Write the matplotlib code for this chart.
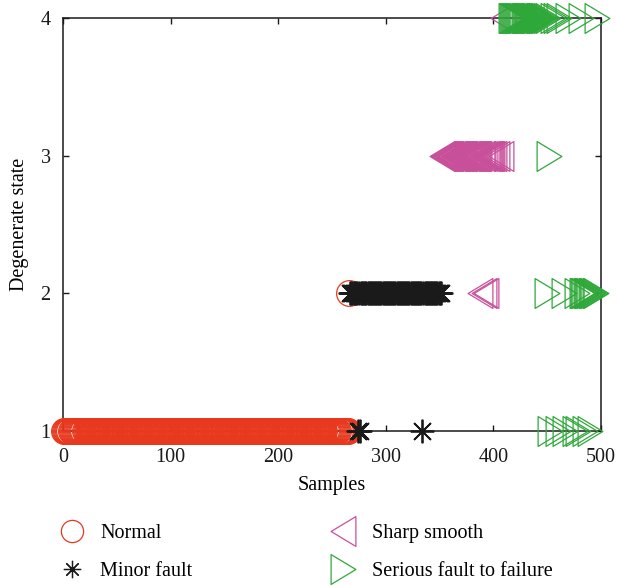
import numpy as np
import matplotlib
matplotlib.use("Agg")
import matplotlib.pyplot as plt
from matplotlib.path import Path
from matplotlib.lines import Line2D

plt.rcParams['font.family'] = ['Liberation Serif', 'DejaVu Serif']

# ---- data: (start sample, end sample, predicted state) runs ----
normal_runs = [(1, 265, 1), (266, 266, 2)]
minor_runs = [(267, 273, 2), (274, 274, 1), (275, 275, 2), (276, 276, 1),
              (277, 333, 2), (334, 334, 1), (335, 351, 2)]
sharp_runs = [(352, 387, 3), (388, 388, 2), (389, 390, 3), (391, 391, 2),
              (392, 392, 3), (393, 393, 2), (394, 399, 3), (401, 401, 3),
              (403, 403, 3), (407, 407, 3), (409, 409, 4)]
serious_runs = [(416, 447, 4), (449, 449, 4), (450, 450, 2), (451, 451, 4),
                (452, 452, 3), (453, 453, 1), (455, 455, 4), (458, 458, 4),
                (460, 460, 1), (461, 461, 4), (466, 466, 2), (467, 467, 1),
                (469, 469, 4), (476, 476, 1), (478, 478, 2), (479, 479, 1),
                (481, 481, 4), (482, 484, 2), (485, 485, 1), (486, 489, 2),
                (490, 490, 1), (491, 495, 2), (496, 496, 4)]

labels = ["Normal", "Minor fault", "Sharp smooth", "Serious fault to failure"]
x_ticks = [0, 100, 200, 300, 400, 500]
y_ticks = [1, 2, 3, 4]

def expand(runs):
    xs, ys = [], []
    for a, b, s in runs:
        for i in range(a, b + 1):
            xs.append(i)
            ys.append(s)
    return np.array(xs), np.array(ys)

red = '#E8391E'
black = '#1a1a1a'
pink = '#C8509B'
green = '#2FA83A'

tri_r = Path([(-0.83, -1), (0.83, 0), (-0.83, 1), (-0.83, -1)],
             [Path.MOVETO, Path.LINETO, Path.LINETO, Path.CLOSEPOLY])
tri_l = Path([(0.83, -1), (-0.83, 0), (0.83, 1), (0.83, -1)],
             [Path.MOVETO, Path.LINETO, Path.LINETO, Path.CLOSEPOLY])
aster = (8, 2, 0)

fig = plt.figure(figsize=(6.17, 5.86), dpi=100)
ax = fig.add_axes([63 / 617, 1 - 431 / 586, 538 / 617, 413 / 586])

styles = [
    (normal_runs, 'o', red, 18.5, 0.9),
    (minor_runs, aster, black, 17, 1.3),
    (sharp_runs, tri_l, pink, 21.5, 0.9),
    (serious_runs, tri_r, green, 21.5, 0.9),
]
for runs, mk, col, ms, mew in styles:
    xs, ys = expand(runs)
    ax.plot(xs, ys, ls='none', marker=mk, ms=ms, mfc='none', mec=col,
            mew=mew, clip_on=False, zorder=3)

ax.set_xlim(0, 500)
ax.set_ylim(1, 4)
ax.set_xticks(x_ticks)
ax.set_yticks(y_ticks)
ax.tick_params(direction='in', length=4, width=1, top=True, right=True,
               labelsize=14.5, colors='#1a1a1a')
ax.tick_params(axis='x', pad=12)
ax.tick_params(axis='y', pad=9)
for sp in ax.spines.values():
    sp.set_linewidth(1.1)
    sp.set_color('#1a1a1a')
    sp.set_zorder(2)
ax.set_xlabel("Samples", fontsize=14.5, labelpad=7)
ax.set_ylabel("Degenerate state", fontsize=14.5, labelpad=8)

handles = [
    Line2D([], [], ls='none', marker='o', ms=16, mfc='none', mec=red, mew=0.9),
    Line2D([], [], ls='none', marker=aster, ms=12.5, mfc='none', mec=black, mew=0.9),
    Line2D([], [], ls='none', marker=tri_l, ms=21.5, mfc='none', mec=pink, mew=0.9),
    Line2D([], [], ls='none', marker=tri_r, ms=21.5, mfc='none', mec=green, mew=0.9),
]
fig.legend(handles, labels, ncol=2, loc='upper left',
           bbox_to_anchor=(58 / 617, 1 - 524 / 586), frameon=False,
           fontsize=14.5, handlelength=1.4, handletextpad=0.7,
           columnspacing=6.8, labelspacing=0.95, borderpad=0,
           borderaxespad=0)

fig.savefig("out.png", dpi=100)
